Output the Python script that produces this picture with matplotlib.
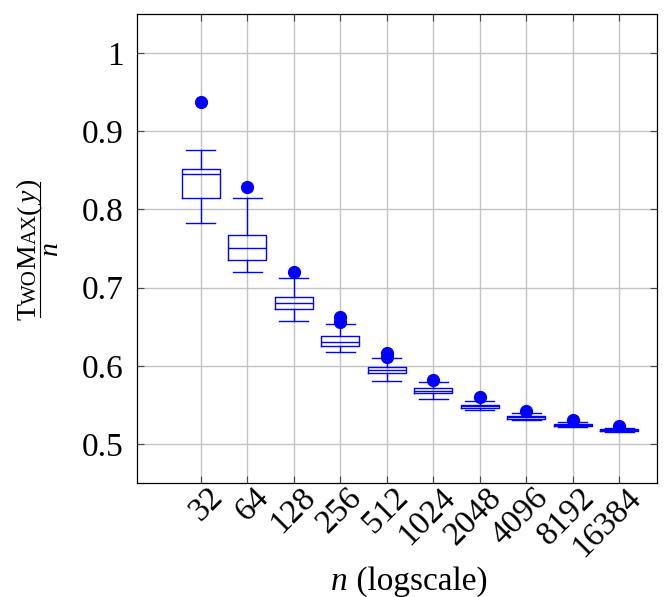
import numpy as np
import matplotlib
matplotlib.use("Agg")
import matplotlib.pyplot as plt
from matplotlib.transforms import ScaledTranslation
from matplotlib.lines import Line2D

plt.rcParams["font.family"] = ["Liberation Serif", "DejaVu Serif"]
plt.rcParams["mathtext.fontset"] = "custom"
plt.rcParams["mathtext.rm"] = "Liberation Serif"
plt.rcParams["mathtext.it"] = "Liberation Serif:italic"

# problem sizes and box statistics of TwoMax(y)/n
sizes = [32, 64, 128, 256, 512, 1024, 2048, 4096, 8192, 16384]
whisker_low = [0.782, 0.720, 0.657, 0.618, 0.581, 0.558, 0.543, 0.530, 0.5215, 0.5155]
quart_low = [0.814, 0.735, 0.673, 0.625, 0.591, 0.565, 0.5455, 0.5325, 0.523, 0.5168]
medians = [0.845, 0.751, 0.680, 0.631, 0.594, 0.568, 0.548, 0.534, 0.5245, 0.5178]
quart_high = [0.852, 0.767, 0.688, 0.638, 0.598, 0.571, 0.550, 0.536, 0.526, 0.5188]
whisker_high = [0.876, 0.814, 0.712, 0.653, 0.610, 0.579, 0.555, 0.539, 0.528, 0.521]
outliers = [[0.938], [0.829], [0.720], [0.656, 0.662], [0.611, 0.616],
            [0.582], [0.560], [0.542], [0.530], [0.5225]]
yticks = [0.5, 0.6, 0.7, 0.8, 0.9, 1.0]
ytick_labels = ["0.5", "0.6", "0.7", "0.8", "0.9", "1"]

W, H = 672, 597
fig = plt.figure(figsize=(W / 100, H / 100), dpi=100)
ax = fig.add_axes([137 / W, 1 - 483 / H, 520 / W, 469 / H])

positions = np.log2(sizes)
stats = []
for i in range(len(sizes)):
    stats.append(dict(whislo=whisker_low[i], q1=quart_low[i], med=medians[i],
                      q3=quart_high[i], whishi=whisker_high[i], fliers=outliers[i]))

blue = "#0000ff"
lp = dict(color=blue, linewidth=1.0)
ax.bxp(stats, positions=positions, widths=0.82, capwidths=0.63,
       boxprops=lp, medianprops=lp, whiskerprops=lp, capprops=lp,
       flierprops=dict(marker="o", markerfacecolor=blue, markeredgecolor=blue,
                       markersize=8.5, linestyle="none"),
       manage_ticks=False)

ax.set_xlim(3.63, 14.81)
ax.set_ylim(0.45, 1.05)
ax.set_axisbelow(True)
ax.grid(True, color="#c4c4c4", linewidth=1.0)

ax.set_yticks(yticks)
ax.set_yticklabels(ytick_labels)
ax.set_xticks(positions)
ax.set_xticklabels([str(s) for s in sizes], rotation=45, ha="right",
                   va="center", rotation_mode="anchor")
ax.tick_params(axis="both", direction="in", length=5, width=0.8,
               color="#444444", labelsize=24, top=True, right=True)
ax.tick_params(axis="y", pad=9.5)
ax.tick_params(axis="x", pad=0)
shift = ScaledTranslation(17 / 100, -10 / 100, fig.dpi_scale_trans)
for lab in ax.get_xticklabels():
    lab.set_transform(lab.get_transform() + shift)
for sp in ax.spines.values():
    sp.set_linewidth(0.9)

renderer = fig.canvas.get_renderer()

# x axis label: italic n followed by upright text
xl_n = fig.text(0, 0, "n", fontsize=24, fontstyle="italic", va="baseline")
xl_rest = fig.text(0, 0, " (logscale)", fontsize=24, va="baseline")
w_n = xl_n.get_window_extent(renderer).width
w_rest = xl_rest.get_window_extent(renderer).width
x0 = 409 - (w_n + w_rest) / 2
xl_n.set_position((x0 / W, 1 - 590 / H))
xl_rest.set_position(((x0 + w_n) / W, 1 - 590 / H))

# y axis label: fraction TwoMax(y) / n with small caps numerator
big, small = 20, 15
pieces = [("T", big), ("WO", small), ("M", big), ("AX", small),
          ("(", big), ("$y$", big), (")", big)]
texts = []
lengths = []
for s, fs in pieces:
    t = fig.text(0, 0, s, fontsize=fs, rotation=90,
                 rotation_mode="anchor", ha="left", va="baseline")
    texts.append(t)
    lengths.append(t.get_window_extent(renderer).height)
bar_top, bar_bot, bar_x = 182, 317, 39.5
center = (bar_top + bar_bot) / 2
y_cur = center + sum(lengths) / 2
num_base = 35.5
for t, L in zip(texts, lengths):
    t.set_position((num_base / W, 1 - y_cur / H))
    y_cur -= L

den = fig.text(0, 0, "$n$", fontsize=big, rotation=90,
               rotation_mode="anchor", ha="left", va="baseline")
dl = den.get_window_extent(renderer).height
den.set_position((58 / W, 1 - (center + dl / 2) / H))

fig.add_artist(Line2D([bar_x / W, bar_x / W], [1 - bar_bot / H, 1 - bar_top / H],
                      color="black", linewidth=0.8, transform=fig.transFigure))

fig.savefig("out.png", dpi=100)
